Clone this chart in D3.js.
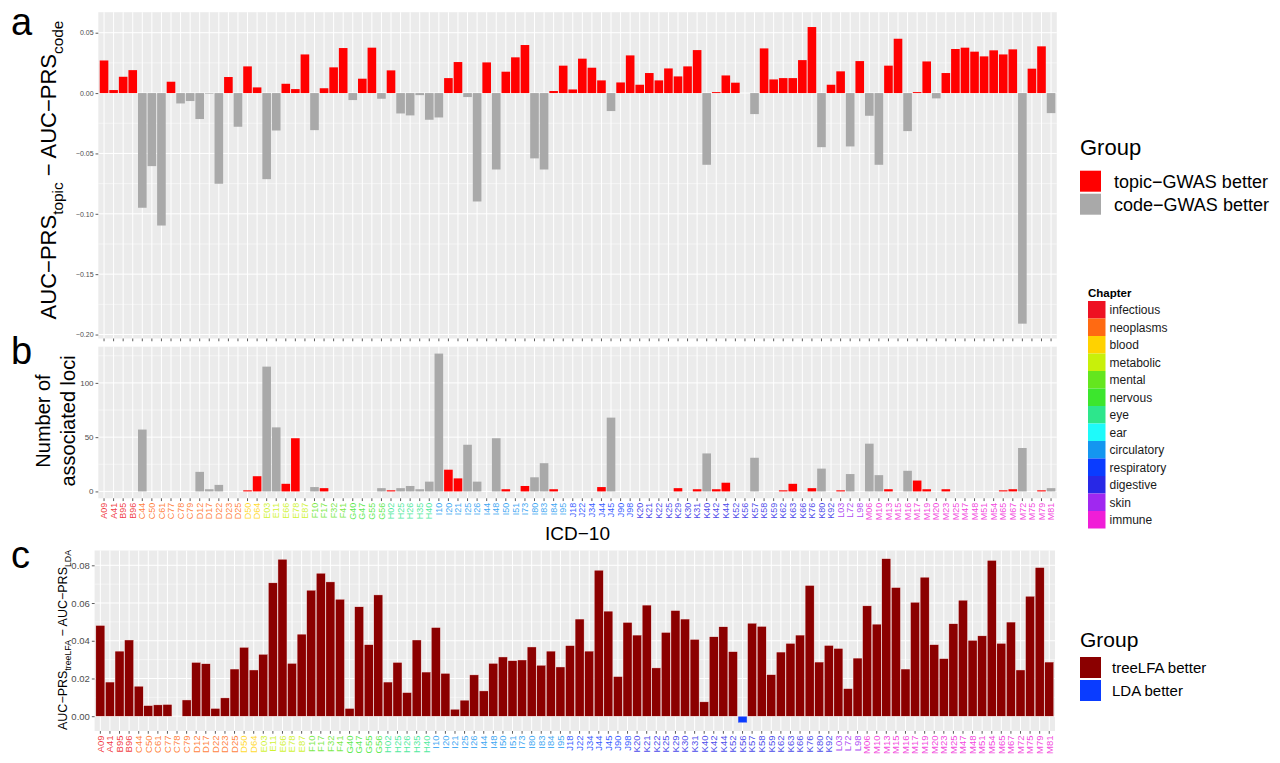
<!DOCTYPE html>
<html>
<head>
<meta charset="utf-8">
<script src="https://cdn.jsdelivr.net/npm/d3@7"></script>
<style>
  body { margin: 0; background: #fff; }
  svg { font-family: "Liberation Sans", Arial, Helvetica, sans-serif; }
</style>
</head>
<body>
<svg id="fig" width="1280" height="763"></svg>
<script>
// ICD-10 codes on the x axis (same order in all three panels)
const codes = ["A09","A41","B95","B96","C44","C50","C61","C77","C78","C79",
  "D12","D17","D22","D23","D25","D50","D64","E03","E11","E66",
  "E78","E87","F10","F17","F32","F41","G40","G47","G55","G56",
  "H02","H25","H26","H35","H40","I10","I20","I21","I25","I26",
  "I44","I48","I50","I51","I73","I80","I83","I84","I95","J18",
  "J22","J34","J44","J45","J90","J98","K20","K21","K22","K25",
  "K29","K30","K31","K40","K42","K44","K52","K56","K57","K58",
  "K59","K62","K63","K66","K76","K80","K92","L03","L72","L98",
  "M06","M10","M13","M15","M16","M17","M19","M20","M23","M25",
  "M47","M48","M51","M54","M65","M67","M72","M75","M79","M81"];

// panel a: AUC-PRS(topic) - AUC-PRS(code)
const topicDiff = [0.027,0.0025,0.0135,0.019,-0.095,-0.0605,-0.1097,0.0094,-0.0086,-0.0066,
  -0.0215,-0.0005,-0.0751,0.0133,-0.0279,0.0221,0.0047,-0.0713,-0.031,0.0077,
  0.0033,0.032,-0.0307,0.004,0.0213,0.0373,-0.0058,0.0119,0.0376,-0.0047,
  0.0188,-0.0169,-0.0185,-0.0017,-0.0221,-0.0202,0.0124,0.0257,-0.0033,-0.0898,
  0.0254,-0.0633,0.0177,0.0296,0.0398,-0.0541,-0.0633,0.0017,0.0227,0.003,
  0.0285,0.021,0.0105,-0.0149,0.0088,0.0312,0.0069,0.0166,0.0105,0.0204,
  0.0138,0.0221,0.0356,-0.0594,0.0008,0.0146,0.0086,0,-0.0174,0.037,
  0.0113,0.0124,0.0124,0.0273,0.0547,-0.0448,0.0069,0.018,-0.0442,0.0265,
  -0.0188,-0.0594,0.0227,0.045,-0.0315,0.0008,0.0262,-0.0044,0.0166,0.0365,
  0.0376,0.0343,0.0304,0.0354,0.032,0.0362,-0.191,0.0202,0.0387,-0.0166];

// panel b: number of associated loci
const lociCount = [0,0,0,0,57,0,0,0,0,0,
  18,2,6,0,0,1,14,115,59,7,
  49,0,4,3,0,0,0,0,0,3,
  1,3,5,2,9,127,20,12,43,9,
  0,49,2,0,5,13,26,2,0,0,
  0,0,4,68,0,0,0,0,0,0,
  3,0,2,35,2,8,0,0,31,0,
  0,1,7,0,3,21,0,1,16,0,
  44,15,2,0,19,10,2,0,2,0,
  0,0,0,0,1,2,40,0,1,3];

// panel c: AUC-PRS(treeLFA) - AUC-PRS(LDA)
const treeDiff = [0.0481,0.0181,0.0345,0.0404,0.0159,0.0056,0.006,0.0062,0,0.0086,
  0.0285,0.0278,0.0041,0.0097,0.025,0.0365,0.0245,0.0328,0.0707,0.0832,
  0.028,0.0435,0.0668,0.0758,0.0712,0.062,0.0041,0.058,0.0379,0.0643,
  0.0181,0.0285,0.0125,0.0404,0.0234,0.047,0.0227,0.0037,0.0085,0.0219,
  0.0134,0.028,0.0314,0.0294,0.0298,0.0367,0.027,0.0345,0.0261,0.0374,
  0.0515,0.0345,0.0774,0.0557,0.021,0.0497,0.043,0.0589,0.0256,0.0444,
  0.056,0.0515,0.0407,0.0076,0.0421,0.0474,0.0342,-0.0035,0.0493,0.0476,
  0.022,0.034,0.0386,0.043,0.0693,0.0287,0.0375,0.0359,0.0146,0.0308,
  0.0585,0.0488,0.0835,0.0682,0.025,0.0604,0.0737,0.0379,0.0305,0.049,
  0.0615,0.0402,0.0426,0.0826,0.0386,0.0499,0.0245,0.0636,0.0788,0.0287];

const chapterNames = ["infectious","neoplasms","blood","metabolic","mental","nervous","eye",
  "ear","circulatory","respiratory","digestive","skin","immune"];
const chapterColors = ["#EE1122","#FF6A12","#FFD200","#C8F00A","#64E61E","#3CE62D","#2DE68C",
  "#1EFAFA","#1496F0","#0A3CFF","#2828E6","#A028F0","#F01ED7"];

const groupA = ["topic\u2212GWAS better","code\u2212GWAS better"];
const groupAColors = ["#FF0000","#A9A9A9"];
const groupC = ["treeLFA better","LDA better"];
const groupCColors = ["#8B0000","#0A3CFF"];

const ticksA = [-0.20,-0.15,-0.10,-0.05,0,0.05];
const minorA = [-0.175,-0.125,-0.075,-0.025,0.025];
const ticksB = [0,50,100];
const minorB = [25,75,125];
const ticksC = [0,0.02,0.04,0.06,0.08];
const minorC = [0.01,0.03,0.05,0.07];

const svg = d3.select("#fig");

// which chapter a code belongs to
function chapterOf(c) {
  const l = c[0], n = +c.slice(1);
  if (l == "A" || l == "B") return 0;
  if (l == "C" || (l == "D" && n < 50)) return 1;
  if (l == "D") return 2;
  if (l == "H") return n < 60 ? 6 : 7;
  return {E:3, F:4, G:5, I:8, J:9, K:10, L:11, M:12}[l];
}

// one ggplot-like bar panel
function panel(o) {
  const g = svg.append("g");
  const ext = d3.extent(o.values.concat([0]));
  const pad = (ext[1] - ext[0]) * 0.05;
  const y = d3.scaleLinear().domain([ext[0] - pad, ext[1] + pad]).range([o.bottom, o.top]);
  const x = d3.scaleBand().domain(codes).range([o.left, o.right])
    .paddingInner(o.inner).paddingOuter(0.6 - (1 - o.inner) / 2);

  g.append("rect").attr("x", o.left).attr("y", o.top)
    .attr("width", o.right - o.left).attr("height", o.bottom - o.top).attr("fill", "#EBEBEB");

  g.selectAll(".minor").data(o.minor).enter().append("line")
    .attr("x1", o.left).attr("x2", o.right)
    .attr("y1", d => y(d)).attr("y2", d => y(d))
    .attr("stroke", "#fff").attr("stroke-width", 0.5);
  g.selectAll(".major").data(o.ticks).enter().append("line")
    .attr("x1", o.left).attr("x2", o.right)
    .attr("y1", d => y(d)).attr("y2", d => y(d))
    .attr("stroke", "#fff").attr("stroke-width", 1);
  g.selectAll(".vgrid").data(codes).enter().append("line")
    .attr("x1", d => x(d) + x.bandwidth() / 2).attr("x2", d => x(d) + x.bandwidth() / 2)
    .attr("y1", o.top).attr("y2", o.bottom)
    .attr("stroke", "#fff").attr("stroke-width", 1);

  g.selectAll(".bar").data(o.values).enter().append("rect")
    .attr("x", (d, i) => x(codes[i]))
    .attr("width", x.bandwidth())
    .attr("y", d => Math.min(y(d), y(0)))
    .attr("height", d => Math.abs(y(d) - y(0)))
    .attr("fill", (d, i) => o.color(d, i))
    .attr("stroke", o.stroke || "none")
    .attr("stroke-width", o.stroke ? 0.4 : 0);

  // y axis
  const ya = g.append("g").attr("transform", "translate(" + o.left + ",0)")
    .call(d3.axisLeft(y).tickValues(o.ticks).tickSize(2.75).tickPadding(2).tickFormat(o.fmt));
  ya.select(".domain").remove();
  ya.selectAll("line").attr("stroke", "#333").attr("stroke-width", 0.8);
  ya.selectAll("text").attr("fill", "#4D4D4D").style("font-size", o.yFont + "px");

  // x axis
  const xa = g.append("g").attr("transform", "translate(0," + o.bottom + ")")
    .call(d3.axisBottom(x).tickSize(2.75));
  xa.select(".domain").remove();
  xa.selectAll("line").attr("stroke", "#333").attr("stroke-width", 0.8);
  if (o.xFont) {
    xa.selectAll("text")
      .attr("transform", "rotate(-90)")
      .attr("text-anchor", "end")
      .attr("x", -4.5).attr("y", 0).attr("dy", "0.35em")
      .attr("fill", d => chapterColors[chapterOf(d)])
      .attr("fill-opacity", 0.85)
      .style("font-size", o.xFont + "px");
  } else {
    xa.selectAll("text").remove();
  }
  return g;
}

const fmt2 = d => d3.format(".2f")(d).replace("-", "\u2212");

panel({values: topicDiff, left: 98.3, right: 1056.8, top: 12.2, bottom: 338.5,
  inner: 0.1, ticks: ticksA, minor: minorA, fmt: fmt2, yFont: 7,
  color: (d, i) => topicDiff[i] > 0 ? groupAColors[0] : groupAColors[1]});

panel({values: lociCount, left: 98.3, right: 1056.8, top: 346.7, bottom: 498.3,
  inner: 0.1, ticks: ticksB, minor: minorB, fmt: d3.format("d"), yFont: 8, xFont: 9,
  color: (d, i) => topicDiff[i] > 0 ? groupAColors[0] : groupAColors[1]});

panel({values: treeDiff, left: 94.6, right: 1055, top: 550.5, bottom: 731,
  inner: 0.06, ticks: ticksC, minor: minorC, fmt: fmt2, yFont: 9.5, xFont: 9.5,
  stroke: "#fbe9e9",
  color: d => d >= 0 ? groupCColors[0] : groupCColors[1]});

// panel letters
[["a", 35], ["b", 364], ["c", 568]].forEach(p => {
  svg.append("text").attr("x", 11).attr("y", p[1]).text(p[0])
    .style("font-size", "38px").attr("fill", "#000");
});

// y titles
function subTitle(x, yc, size, parts) {
  const t = svg.append("text")
    .attr("transform", "translate(" + x + "," + yc + ") rotate(-90)")
    .attr("text-anchor", "middle").style("font-size", size + "px").attr("fill", "#000");
  let down = false;
  parts.forEach(p => {
    const sub = p[1];
    const ts = t.append("tspan").text(p[0]);
    if (sub && !down) { ts.attr("dy", size * 0.3).style("font-size", (size * 0.7) + "px"); down = true; }
    else if (!sub && down) { ts.attr("dy", -size * 0.3); down = false; }
  });
}
subTitle(56, 170, 22, [["AUC\u2212PRS", 0], ["topic", 1], [" \u2212 AUC\u2212PRS", 0], ["code", 1]]);
subTitle(67, 640, 12.5, [["AUC\u2212PRS", 0], ["treeLFA", 1], [" \u2212 AUC\u2212PRS", 0], ["LDA", 1]]);

const tb = svg.append("text")
  .attr("transform", "translate(0,421) rotate(-90)")
  .attr("text-anchor", "middle").style("font-size", "20px").attr("fill", "#000");
tb.append("tspan").attr("x", 0).attr("y", 50).text("Number of");
tb.append("tspan").attr("x", 0).attr("y", 75).text("associated loci");

svg.append("text").attr("x", 577.5).attr("y", 540).attr("text-anchor", "middle")
  .style("font-size", "19px").text("ICD\u221210");

// legend: group (panel a)
svg.append("text").attr("x", 1080).attr("y", 155).style("font-size", "22px").text("Group");
groupA.forEach((name, i) => {
  svg.append("rect").attr("x", 1080).attr("y", 170.7 + i * 23).attr("width", 21).attr("height", 21)
    .attr("fill", groupAColors[i]);
  svg.append("text").attr("x", 1114).attr("y", 188 + i * 22.5).style("font-size", "18px")
    .text(name);
});

// legend: chapter
svg.append("text").attr("x", 1088).attr("y", 296.5).style("font-size", "11.5px")
  .style("font-weight", "bold").text("Chapter");
chapterNames.forEach((name, i) => {
  svg.append("rect").attr("x", 1088).attr("y", 301 + i * 17.5).attr("width", 17.5).attr("height", 17.5)
    .attr("fill", chapterColors[i]);
  svg.append("text").attr("x", 1109.5).attr("y", 314 + i * 17.5).style("font-size", "12px")
    .attr("fill", "#1a1a1a").text(name);
});

// legend: group (panel c)
svg.append("text").attr("x", 1080).attr("y", 647).style("font-size", "21px").text("Group");
groupC.forEach((name, i) => {
  svg.append("rect").attr("x", 1080).attr("y", 657 + i * 23).attr("width", 21).attr("height", 21)
    .attr("fill", groupCColors[i]);
  svg.append("text").attr("x", 1112).attr("y", 673 + i * 23).style("font-size", "15px")
    .text(name);
});
</script>
</body>
</html>
